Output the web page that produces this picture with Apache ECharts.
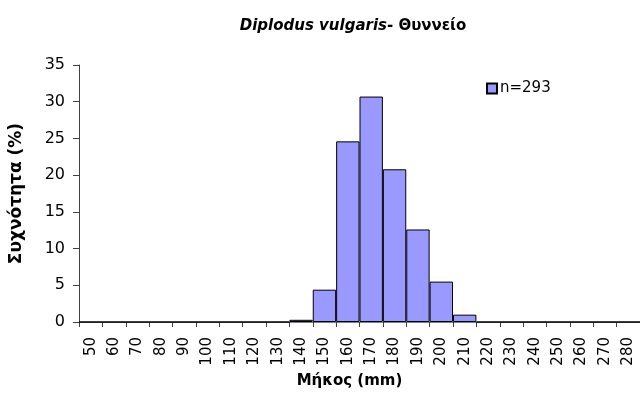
<!DOCTYPE html>
<html>
<head>
<meta charset="utf-8">
<script src="https://cdn.jsdelivr.net/npm/echarts@6/dist/echarts.min.js"></script>
<style>
  html, body { margin: 0; padding: 0; background: #fff; }
  #chart { width: 640px; height: 407px; }
</style>
</head>
<body>
<div id="chart"></div>
<script>
// Length classes (mm) and percentage frequency per class
const lengthClasses = ['50','60','70','80','90','100','110','120','130','140','150','160',
                       '170','180','190','200','210','220','230','240','250','260','270','280'];
const frequency = [0,0,0,0,0,0,0,0,0,0.3,4.4,24.6,30.7,20.8,12.6,5.5,1.0,0,0,0,0,0,0,0];
const seriesName = 'n=293';
const yTicks = { min: 0, max: 35, interval: 5 };

const FONT = 'DejaVu Sans, Verdana, sans-serif';
const chart = echarts.init(document.getElementById('chart'), null, { renderer: 'canvas' });

chart.setOption({
  animation: false,
  backgroundColor: '#ffffff',
  textStyle: { fontFamily: FONT },
  title: {
    text: '{sp|Diplodus vulgaris}{loc|- Θυννείο}',
    left: 348,
    top: 14,
    textAlign: 'center',
    textStyle: {
      rich: {
        sp: { fontStyle: 'italic', fontWeight: 'bold', fontSize: 15, color: '#000', fontFamily: FONT },
        loc: { fontWeight: 'bold', fontSize: 15, color: '#000', fontFamily: FONT }
      }
    }
  },
  legend: {
    left: 481,
    top: 76,
    itemWidth: 10,
    itemHeight: 10,
    itemGap: 4,
    icon: 'rect',
    textStyle: { fontSize: 15, color: '#000', fontFamily: FONT, padding: [0, 0, 0, -2] },
    data: [seriesName]
  },
  grid: { left: 79, right: 0, top: 65, bottom: 85, containLabel: false },
  xAxis: {
    type: 'category',
    data: lengthClasses,
    name: 'Μήκος (mm)',
    nameLocation: 'middle',
    nameGap: 46,
    nameTextStyle: { fontWeight: 'bold', fontSize: 15, color: '#000', fontFamily: FONT, padding: [0, 20, 0, 0] },
    axisLine: { lineStyle: { color: '#808080', width: 1 } },
    axisTick: { show: true, alignWithLabel: false, length: 5, lineStyle: { color: '#404040' } },
    axisLabel: { rotate: 90, fontSize: 15, color: '#000', fontFamily: FONT, interval: 0, margin: 15 },
    splitLine: { show: false }
  },
  yAxis: {
    type: 'value',
    min: yTicks.min,
    max: yTicks.max,
    interval: yTicks.interval,
    name: 'Συχνότητα (%)',
    nameLocation: 'middle',
    nameGap: 54,
    nameRotate: 90,
    nameTextStyle: { fontWeight: 'bold', fontSize: 17, color: '#000', fontFamily: FONT },
    axisLine: { show: true, lineStyle: { color: '#404040', width: 1 } },
    axisTick: { show: true, length: 6, inside: false, lineStyle: { color: '#404040' } },
    axisLabel: { fontSize: 16, color: '#000', fontFamily: FONT, margin: 14 },
    splitLine: { show: false }
  },
  series: [{
    name: seriesName,
    type: 'bar',
    data: frequency,
    barCategoryGap: '0%',
    itemStyle: { color: '#9999ff', borderColor: '#000', borderWidth: 1 }
  }]
});
</script>
</body>
</html>
